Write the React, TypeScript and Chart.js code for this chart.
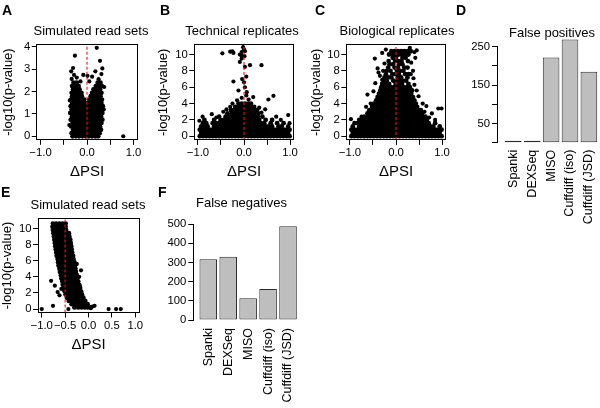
import { useEffect, useRef } from "react";
import { Chart, registerables } from "chart.js";

Chart.register(...registerables);

const FONT = "'Liberation Sans', Arial, Helvetica, sans-serif";
Chart.defaults.font.family = FONT;
Chart.defaults.color = "#000";

// ---------------- data ----------------
const volcanoTickValues = [-1, -0.5, 0, 0.5, 1];
const allTickLabels = ["\u22121.0", "\u22120.5", "0.0", "0.5", "1.0"];
const sparseTickLabels = ["\u22121.0", "", "0.0", "", "1.0"];
const pTicksSmall = [0, 1, 2, 3, 4];
const pTicks = [0, 2, 4, 6, 8, 10];

const methods = ["Spanki", "DEXSeq", "MISO", "Cuffdiff (iso)", "Cuffdiff (JSD)"];
const falsePositives = [0, 0, 222, 269, 185];
const falseNegatives = [316, 330, 113, 161, 488];
const fpTicks = [0, 50, 100, 150, 200, 250];
const fpTickLabels = ["", "50", "", "150", "", "250"];
const fnTicks = [0, 100, 200, 300, 400, 500];
const fnTickLabels = ["0", "100", "200", "300", "400", "500"];

// A: simulated read sets (null) -- rows of [-log10 p, dPSI values]
const simRowsA: [number, number[]][] = [
  [0.0, [-0.31, -0.24, -0.17, -0.1, -0.03, 0.04, 0.11, 0.18, 0.24]],
  [0.14, [-0.33, -0.27, -0.2, -0.13, -0.06, 0.01, 0.08, 0.15, 0.21, 0.27]],
  [0.29, [-0.3, -0.23, -0.16, -0.09, -0.02, 0.05, 0.12, 0.19, 0.25, 0.3]],
  [0.44, [-0.34, -0.27, -0.2, -0.13, -0.06, 0.01, 0.08, 0.15, 0.22, 0.28]],
  [0.59, [-0.31, -0.24, -0.17, -0.1, -0.03, 0.04, 0.11, 0.18, 0.25, 0.31]],
  [0.74, [-0.35, -0.28, -0.21, -0.14, -0.07, 0.0, 0.07, 0.14, 0.21, 0.28, 0.33]],
  [0.89, [-0.32, -0.25, -0.18, -0.11, -0.04, 0.03, 0.1, 0.17, 0.24, 0.3]],
  [1.04, [-0.36, -0.29, -0.22, -0.15, -0.08, -0.01, 0.06, 0.13, 0.2, 0.27, 0.33]],
  [1.19, [-0.33, -0.26, -0.19, -0.12, -0.05, 0.02, 0.09, 0.16, 0.23, 0.3]],
  [1.34, [-0.35, -0.28, -0.21, -0.14, -0.07, 0.0, 0.07, 0.14, 0.21, 0.28, 0.34]],
  [1.49, [-0.32, -0.25, -0.18, -0.11, -0.04, 0.03, 0.1, 0.17, 0.24, 0.31]],
  [1.64, [-0.34, -0.27, -0.2, -0.13, -0.06, 0.05, 0.12, 0.19, 0.26, 0.32]],
  [1.79, [-0.32, -0.25, -0.18, -0.11, 0.08, 0.15, 0.22, 0.29]],
  [1.94, [-0.33, -0.26, -0.19, -0.12, 0.11, 0.18, 0.25, 0.31]],
  [2.09, [-0.3, -0.23, -0.16, 0.14, 0.21, 0.28]],
  [2.24, [-0.32, -0.25, -0.18, 0.19, 0.26, 0.32]],
  [2.39, [-0.29, -0.22, 0.23, 0.29]],
];
const simExtraA: [number, number][] = [
  [-0.33, 2.56], [-0.28, 2.74], [-0.34, 2.9], [-0.3, 3.05], [-0.22, 2.62], [-0.08, 2.74],
  [0.01, 2.7], [0.11, 2.66], [0.25, 2.55], [0.31, 2.78], [0.33, 3.03], [0.28, 3.37],
  [0.21, 3.95], [-0.26, 3.6], [0.78, 0.0], [-0.37, 1.6], [-0.38, 0.5], [0.37, 2.2],
  [0.36, 1.2], [-0.14, 2.45], [0.05, 2.45], [0.18, 2.9],
];

// B: technical replicates
const techRows: [number, number[]][] = [
  [0.02, [-0.96, -0.89, -0.82, -0.75, -0.68, -0.61, -0.54, -0.47, -0.4, -0.33, -0.26, -0.19, -0.12, -0.05, 0.02, 0.09, 0.16, 0.23, 0.3, 0.37, 0.44, 0.51, 0.58, 0.65, 0.72, 0.79, 0.86, 0.93, 0.99]],
  [0.4, [-0.93, -0.86, -0.79, -0.72, -0.65, -0.58, -0.51, -0.44, -0.37, -0.3, -0.23, -0.16, -0.09, -0.02, 0.05, 0.12, 0.19, 0.26, 0.33, 0.4, 0.47, 0.54, 0.61, 0.68, 0.75, 0.82, 0.89, 0.96]],
  [0.8, [-0.96, -0.89, -0.82, -0.75, -0.68, -0.61, -0.54, -0.47, -0.4, -0.33, -0.26, -0.19, -0.12, -0.05, 0.02, 0.09, 0.16, 0.23, 0.3, 0.37, 0.44, 0.51, 0.58, 0.65, 0.72, 0.79, 0.86, 0.93, 0.99]],
  [1.2, [-0.93, -0.86, -0.79, -0.65, -0.58, -0.51, -0.44, -0.37, -0.3, -0.23, -0.16, -0.09, -0.02, 0.05, 0.12, 0.19, 0.26, 0.33, 0.4, 0.47, 0.54, 0.61, 0.75, 0.82, 0.96]],
  [1.6, [-0.89, -0.82, -0.68, -0.61, -0.54, -0.47, -0.4, -0.33, -0.26, -0.19, -0.12, -0.05, 0.02, 0.09, 0.16, 0.23, 0.3, 0.37, 0.44, 0.58, 0.72, 0.86]],
  [2.0, [-0.86, -0.65, -0.51, -0.44, -0.37, -0.3, -0.23, -0.16, -0.09, -0.02, 0.05, 0.12, 0.19, 0.26, 0.33, 0.47, 0.61]],
  [2.4, [-0.54, -0.4, -0.33, -0.26, -0.19, -0.12, -0.05, 0.02, 0.09, 0.16, 0.23, 0.3, 0.4]],
  [2.8, [-0.36, -0.27, -0.2, -0.13, -0.06, 0.01, 0.08, 0.15, 0.22, 0.31]],
  [3.2, [-0.28, -0.21, -0.14, -0.07, 0.0, 0.07, 0.14, 0.21, 0.28]],
  [3.6, [-0.19, -0.12, -0.05, 0.02, 0.09, 0.16, 0.22]],
  [4.0, [-0.12, -0.05, 0.02, 0.09, 0.15]],
];
const techExtra: [number, number][] = [
  [-0.97, 1.9], [-0.9, 2.4], [-0.7, 2.7], [-0.6, 2.3], [-0.45, 3.0], [-0.38, 3.3], [-0.3, 3.6],
  [-0.25, 4.0], [-0.15, 4.4], [-0.05, 4.7], [0.05, 5.0], [0.1, 4.5], [0.2, 4.8], [0.33, 3.5],
  [0.38, 2.9], [0.46, 3.3], [0.53, 4.5], [0.64, 4.95], [0.7, 2.4], [0.8, 2.0], [0.96, 2.6],
  [0.99, 1.6], [-0.12, 5.6], [0.06, 5.4], [0.02, 6.0], [0.0, 6.6], [-0.04, 7.0], [0.05, 7.3],
  [-0.23, 6.7], [0.02, 8.5], [0.13, 8.7], [0.38, 8.7], [-0.05, 9.5], [-0.09, 9.1],
  [-0.47, 10.15], [-0.3, 10.35], [-0.23, 10.2], [-0.25, 10.4], [-0.09, 10.0], [-0.05, 10.3],
  [0.0, 10.6], [-0.02, 10.9], [0.02, 10.4], [-0.06, 9.9], [0.01, 9.8],
];

// C: biological replicates
const bioRows: [number, number[]][] = [
  [0.02, [-0.97, -0.9, -0.83, -0.76, -0.69, -0.62, -0.55, -0.48, -0.41, -0.34, -0.27, -0.2, -0.13, -0.06, 0.01, 0.08, 0.15, 0.22, 0.29, 0.36, 0.43, 0.5, 0.57, 0.64, 0.71, 0.78, 0.85, 0.92, 0.99]],
  [0.4, [-0.94, -0.87, -0.8, -0.73, -0.66, -0.59, -0.52, -0.45, -0.38, -0.31, -0.24, -0.17, -0.1, -0.03, 0.04, 0.11, 0.18, 0.25, 0.32, 0.39, 0.46, 0.53, 0.6, 0.67, 0.74, 0.81, 0.88, 0.95]],
  [0.8, [-0.97, -0.9, -0.83, -0.76, -0.69, -0.62, -0.55, -0.48, -0.41, -0.34, -0.27, -0.2, -0.13, -0.06, 0.01, 0.08, 0.15, 0.22, 0.29, 0.36, 0.43, 0.5, 0.57, 0.64, 0.71, 0.78, 0.85, 0.92, 0.99]],
  [1.2, [-0.94, -0.8, -0.73, -0.66, -0.59, -0.52, -0.45, -0.38, -0.31, -0.24, -0.17, -0.1, -0.03, 0.04, 0.11, 0.18, 0.25, 0.32, 0.39, 0.46, 0.53, 0.6, 0.67, 0.74, 0.81, 0.95]],
  [1.6, [-0.9, -0.83, -0.76, -0.69, -0.62, -0.55, -0.48, -0.41, -0.34, -0.27, -0.2, -0.13, -0.06, 0.01, 0.08, 0.15, 0.22, 0.29, 0.36, 0.43, 0.5, 0.57, 0.64, 0.71, 0.85]],
  [2.0, [-0.8, -0.73, -0.66, -0.59, -0.52, -0.45, -0.38, -0.31, -0.24, -0.17, -0.1, -0.03, 0.04, 0.11, 0.18, 0.25, 0.32, 0.39, 0.46, 0.53, 0.6, 0.67]],
  [2.4, [-0.69, -0.62, -0.55, -0.48, -0.41, -0.34, -0.27, -0.2, -0.13, -0.06, 0.01, 0.08, 0.15, 0.22, 0.29, 0.36, 0.43, 0.5, 0.57, 0.64]],
  [2.8, [-0.62, -0.55, -0.48, -0.41, -0.34, -0.27, -0.2, -0.13, -0.06, 0.01, 0.08, 0.15, 0.22, 0.29, 0.36, 0.43, 0.5, 0.57]],
  [3.2, [-0.58, -0.51, -0.44, -0.37, -0.3, -0.23, -0.16, -0.09, -0.02, 0.05, 0.12, 0.19, 0.26, 0.33, 0.4, 0.47, 0.54]],
  [3.6, [-0.52, -0.45, -0.38, -0.31, -0.24, -0.17, -0.1, -0.03, 0.04, 0.11, 0.18, 0.25, 0.32, 0.39, 0.46]],
  [4.0, [-0.48, -0.41, -0.34, -0.27, -0.2, -0.13, -0.06, 0.01, 0.08, 0.15, 0.22, 0.29, 0.36, 0.43]],
  [4.4, [-0.43, -0.36, -0.29, -0.22, -0.15, -0.08, -0.01, 0.06, 0.13, 0.2, 0.27, 0.34, 0.4]],
  [4.8, [-0.4, -0.33, -0.26, -0.19, -0.12, -0.05, 0.02, 0.09, 0.16, 0.23, 0.3, 0.37]],
  [5.2, [-0.37, -0.3, -0.23, -0.16, -0.09, -0.02, 0.05, 0.12, 0.19, 0.26, 0.33]],
  [5.6, [-0.34, -0.27, -0.2, -0.13, -0.06, 0.01, 0.08, 0.15, 0.22, 0.29, 0.35]],
  [6.0, [-0.32, -0.25, -0.18, -0.11, -0.04, 0.03, 0.1, 0.17, 0.24, 0.3]],
  [6.4, [-0.3, -0.22, -0.15, -0.01, 0.06, 0.13, 0.27]],
  [6.8, [-0.27, -0.2, -0.06, 0.01, 0.08, 0.15, 0.22]],
  [7.2, [-0.25, -0.17, -0.1, 0.04, 0.11, 0.25]],
  [7.6, [-0.22, -0.08, -0.01, 0.06, 0.2, 0.27]],
  [8.0, [-0.2, -0.12, 0.02, 0.09, 0.16]],
  [8.4, [-0.17, -0.03, 0.04, 0.18, 0.25]],
  [8.8, [-0.14, -0.07, 0.07, 0.14]],
  [9.2, [-0.16, -0.02, 0.05, 0.12, 0.26]],
  [9.6, [-0.07, 0.0, 0.14, 0.21]],
  [10.0, [-0.15, -0.08, -0.01, 0.06, 0.13, 0.2, 0.27]],
  [10.4, [-0.1, -0.03, 0.04, 0.11, 0.18, 0.25, 0.32]],
];
const bioExtra: [number, number][] = [
  [-0.98, 2.1], [-0.75, 2.4], [0.62, 3.0], [0.78, 2.8], [0.92, 3.4], [0.99, 3.4], [0.72, 2.3],
  [0.85, 2.0], [-0.62, 5.1], [-0.49, 5.5], [0.49, 4.9], [0.45, 5.6], [-0.46, 9.5], [-0.4, 8.3],
  [-0.35, 7.4], [0.37, 8.0], [0.38, 7.1], [0.42, 9.6], [0.4, 10.3], [0.45, 10.5], [-0.3, 10.2],
  [-0.22, 10.6], [0.3, 10.8], [-0.55, 4.0], [-0.45, 6.5], [0.4, 6.3], [-0.38, 7.8], [0.33, 9.0],
  [-0.25, 8.9], [-0.65, 3.6], [0.58, 4.0], [0.66, 3.7], [-0.3, 6.9], [0.32, 7.6], [-0.28, 8.0],
];

// E: simulated read sets (true dPSI = -0.5)
const simRowsE: [number, number[]][] = [
  [10.6, [-0.76, -0.69, -0.62, -0.55, -0.49]],
  [10.2, [-0.77, -0.7, -0.63, -0.56, -0.49]],
  [9.8, [-0.76, -0.69, -0.62, -0.55, -0.48]],
  [9.4, [-0.75, -0.68, -0.61, -0.54, -0.47, -0.42]],
  [9.0, [-0.74, -0.67, -0.6, -0.53, -0.46, -0.41]],
  [8.6, [-0.73, -0.66, -0.59, -0.52, -0.45, -0.39]],
  [8.2, [-0.72, -0.65, -0.58, -0.51, -0.44, -0.38]],
  [7.8, [-0.71, -0.64, -0.57, -0.5, -0.43, -0.37]],
  [7.4, [-0.7, -0.63, -0.56, -0.49, -0.42, -0.36]],
  [7.0, [-0.69, -0.62, -0.55, -0.48, -0.41, -0.35]],
  [6.6, [-0.68, -0.61, -0.54, -0.47, -0.4, -0.33]],
  [6.2, [-0.66, -0.59, -0.52, -0.45, -0.38, -0.32]],
  [5.8, [-0.65, -0.58, -0.51, -0.44, -0.37, -0.3]],
  [5.4, [-0.64, -0.57, -0.5, -0.43, -0.36, -0.29]],
  [5.0, [-0.62, -0.55, -0.48, -0.41, -0.34, -0.28]],
  [4.6, [-0.61, -0.54, -0.47, -0.4, -0.33, -0.27]],
  [4.2, [-0.59, -0.52, -0.45, -0.38, -0.31, -0.25]],
  [3.8, [-0.58, -0.51, -0.44, -0.37, -0.3, -0.24]],
  [3.4, [-0.56, -0.49, -0.42, -0.35, -0.28, -0.22]],
  [3.0, [-0.55, -0.48, -0.41, -0.34, -0.27, -0.2]],
  [2.6, [-0.53, -0.46, -0.39, -0.32, -0.25, -0.18]],
  [2.2, [-0.51, -0.44, -0.37, -0.3, -0.23, -0.16]],
  [1.8, [-0.49, -0.42, -0.35, -0.28, -0.21, -0.14]],
  [1.4, [-0.46, -0.39, -0.32, -0.25, -0.18, -0.11]],
  [1.0, [-0.42, -0.35, -0.28, -0.21, -0.14, -0.07]],
  [0.6, [-0.36, -0.29, -0.22, -0.15, -0.08, -0.02]],
  [0.2, [-0.3, -0.22, -0.15, -0.08, -0.02, 0.04]],
];
const simExtraE: [number, number][] = [
  [-1.0, 0.0], [-0.76, 0.4], [-0.8, 3.5], [-0.72, 2.9], [-0.66, 2.1], [-0.62, 1.7], [-0.43, 0.0],
  [0.43, 0.0], [0.59, 0.0], [0.69, 0.0], [0.13, 0.4], [-0.16, 4.8], [-0.2, 4.0], [-0.25, 5.6],
  [-0.18, 2.8], [0.05, 0.1], [0.08, 0.3], [-0.05, 0.5], [-0.58, 2.5],
];

// ---------------- helpers ----------------
const rowPoints = (rows: [number, number[]][]) => rows.flatMap(([y, xs]) => xs.map((x) => ({ x, y })));
const pairPoints = (pairs: [number, number][]) => pairs.map(([x, y]) => ({ x, y }));

const decor = {
  id: "decor",
  afterDraw(chart: any, _args: any, o: any) {
    const { ctx, chartArea: a } = chart;
    ctx.save();
    if (o.box) {
      const al = (v: number) => Math.round(v - 0.5) + 0.5;
      ctx.strokeStyle = "#000";
      ctx.lineWidth = 1;
      ctx.strokeRect(al(a.left), al(a.top), al(a.right) - al(a.left), al(a.bottom) - al(a.top));
    }
    ctx.fillStyle = "#000";
    ctx.textBaseline = "alphabetic";
    ctx.textAlign = "center";
    ctx.font = `13px ${FONT}`;
    ctx.fillText(o.title, o.titleX, o.titleY);
    ctx.textAlign = "left";
    ctx.font = `bold 14px ${FONT}`;
    ctx.fillText(o.letter, o.letterX, o.letterY);
    ctx.restore();
  },
};

function volcano(o: any) {
  const { L, R, T, B, yw, xh } = o;
  return {
    type: "scatter",
    data: {
      datasets: [
        {
          type: "line",
          data: [
            { x: o.redX, y: o.ymin },
            { x: o.redX, y: o.ymax },
          ],
          borderColor: "#e8141a",
          borderWidth: 1.1,
          borderDash: [3, 2],
          pointRadius: 0,
          fill: false,
        },
        {
          data: o.extra,
          pointRadius: 2.1,
          pointHoverRadius: 2.1,
          backgroundColor: "#000",
          borderWidth: 0,
        },
        {
          data: o.dense,
          pointRadius: 2.4,
          pointHoverRadius: 2.4,
          backgroundColor: "#000",
          borderWidth: 0,
        },
      ],
    },
    options: {
      responsive: false,
      animation: false,
      events: [],
      devicePixelRatio: 1,
      layout: { padding: { left: L - yw, top: T, right: 600 - R, bottom: 408 - B - xh } },
      scales: {
        x: {
          type: "linear",
          min: o.xmin,
          max: o.xmax,
          afterBuildTicks: (s: any) => {
            s.ticks = volcanoTickValues.map((v) => ({ value: v }));
          },
          afterFit: (s: any) => {
            s.height = xh;
            s.paddingLeft = 0;
            s.paddingRight = 0;
          },
          ticks: {
            autoSkip: false,
            maxRotation: 0,
            minRotation: 0,
            padding: 1.5,
            color: "#000",
            font: { size: 11.3 },
            callback: (v: number) => o.xLabels[volcanoTickValues.indexOf(v)] ?? "",
          },
          grid: { display: true, drawOnChartArea: false, drawTicks: true, tickLength: 5, color: "#000" },
          border: { display: true, color: "#000" },
          title: { display: true, text: "\u0394PSI", font: { size: 15 }, color: "#000", padding: 0 },
        },
        y: {
          type: "linear",
          min: o.ymin,
          max: o.ymax,
          afterBuildTicks: (s: any) => {
            s.ticks = o.yTicks.map((v: number) => ({ value: v }));
          },
          afterFit: (s: any) => {
            s.width = yw;
            s.paddingTop = 0;
            s.paddingBottom = 0;
          },
          ticks: { autoSkip: false, padding: 1.5, color: "#000", font: { size: 11.3 }, callback: (v: number) => String(v) },
          grid: { display: true, drawOnChartArea: false, drawTicks: true, tickLength: 5, color: "#000" },
          border: { display: true, color: "#000" },
          title: { display: true, text: "-log10(p-value)", font: { size: 13 }, color: "#000", padding: 0 },
        },
      },
      plugins: {
        legend: { display: false },
        tooltip: { enabled: false },
        decor: { box: true, ...o.decor },
      },
    },
    plugins: [decor],
  };
}

function bars(o: any) {
  const { L, R, T, B } = o;
  const yw = 40;
  const xh = 100;
  return {
    type: "bar",
    data: {
      datasets: [
        {
          data: o.values.map((v: number, i: number) => ({ x: i + 1, y: v })),
          backgroundColor: "#bebebe",
          borderColor: "#2a2a2a",
          borderWidth: 1,
          borderSkipped: false,
          barPercentage: 0.88,
          categoryPercentage: 1,
          minBarLength: 2,
          clip: false,
        },
      ],
    },
    options: {
      responsive: false,
      animation: false,
      events: [],
      devicePixelRatio: 1,
      layout: { padding: { left: L - yw, top: T, right: 600 - R, bottom: 408 - B - xh } },
      scales: {
        x: {
          type: "linear",
          offset: false,
          min: o.xmin,
          max: o.xmax,
          afterBuildTicks: (s: any) => {
            s.ticks = methods.map((_, i) => ({ value: i + 1 }));
          },
          afterFit: (s: any) => {
            s.height = xh;
            s.paddingLeft = 0;
            s.paddingRight = 0;
          },
          ticks: {
            autoSkip: false,
            minRotation: 90,
            maxRotation: 90,
            padding: o.labelPad,
            color: "#000",
            font: { size: 12.5 },
            callback: (v: number) => methods[v - 1] ?? "",
          },
          grid: { display: false, drawTicks: false, offset: false },
          border: { display: false },
        },
        y: {
          type: "linear",
          min: o.ymin,
          max: o.ymax,
          afterBuildTicks: (s: any) => {
            s.ticks = o.yTicks.map((v: number) => ({ value: v }));
          },
          afterFit: (s: any) => {
            s.width = yw;
            s.paddingTop = 0;
            s.paddingBottom = 0;
          },
          ticks: {
            autoSkip: false,
            padding: 2,
            color: "#000",
            font: { size: 11.3 },
            callback: (v: number) => o.yLabels[o.yTicks.indexOf(v)] ?? "",
          },
          grid: { display: true, drawOnChartArea: false, drawTicks: true, tickLength: 5, color: "#000" },
          border: { display: true, color: "#000" },
        },
      },
      plugins: {
        legend: { display: false },
        tooltip: { enabled: false },
        decor: { box: false, ...o.decor },
      },
    },
    plugins: [decor],
  };
}

const panelConfigs = [
  () =>
    volcano({
      L: 36.8, R: 137.2, T: 44.3, B: 139.8, yw: 36.1, xh: 40.7,
      xmin: -1.08, xmax: 1.08, ymin: -0.158, ymax: 4.108,
      yTicks: pTicksSmall, xLabels: sparseTickLabels, redX: 0,
      dense: rowPoints(simRowsA), extra: pairPoints(simExtraA),
      decor: { title: "Simulated read sets", titleX: 91, titleY: 35, letter: "A", letterX: 2, letterY: 15 },
    }),
  () =>
    volcano({
      L: 194.3, R: 293.7, T: 44.7, B: 139.9, yw: 39.1, xh: 40.6,
      xmin: -1.08, xmax: 1.08, ymin: -0.44, ymax: 11.2,
      yTicks: pTicks, xLabels: sparseTickLabels, redX: 0,
      dense: rowPoints(techRows), extra: pairPoints(techExtra),
      decor: { title: "Technical replicates", titleX: 242, titleY: 35, letter: "B", letterX: 160, letterY: 15 },
    }),
  () =>
    volcano({
      L: 346.3, R: 445.7, T: 44.7, B: 139.9, yw: 38.1, xh: 40.6,
      xmin: -1.08, xmax: 1.08, ymin: -0.44, ymax: 11.2,
      yTicks: pTicks, xLabels: sparseTickLabels, redX: 0,
      dense: rowPoints(bioRows), extra: pairPoints(bioExtra),
      decor: { title: "Biological replicates", titleX: 397, titleY: 35, letter: "C", letterX: 315, letterY: 15 },
    }),
  () =>
    bars({
      L: 497, R: 599, T: 46.7, B: 142.7, xmin: 0.138, xmax: 5.534, ymin: 0, ymax: 250,
      values: falsePositives, yTicks: fpTicks, yLabels: fpTickLabels, labelPad: 7,
      decor: { title: "False positives", titleX: 552, titleY: 37, letter: "D", letterX: 456, letterY: 15 },
    }),
  () =>
    volcano({
      L: 38, R: 139, T: 218.5, B: 312.5, yw: 38.8, xh: 41.5,
      xmin: -1.08, xmax: 1.08, ymin: -0.43, ymax: 11.23,
      yTicks: pTicks, xLabels: allTickLabels, redX: -0.5,
      dense: rowPoints(simRowsE), extra: pairPoints(simExtraE),
      decor: { title: "Simulated read sets", titleX: 88, titleY: 209, letter: "E", letterX: 1, letterY: 197 },
    }),
  () =>
    bars({
      L: 193.3, R: 300, T: 224, B: 320, xmin: 0.25, xmax: 5.6, ymin: 0, ymax: 500,
      values: falseNegatives, yTicks: fnTicks, yLabels: fnTickLabels, labelPad: 8,
      decor: { title: "False negatives", titleX: 241.5, titleY: 207, letter: "F", letterX: 158, letterY: 197 },
    }),
];

function ChartLayer({ make }: { make: () => any }) {
  const ref = useRef<HTMLCanvasElement | null>(null);
  useEffect(() => {
    const chart = new Chart(ref.current as HTMLCanvasElement, make());
    return () => chart.destroy();
  }, [make]);
  return (
    <canvas
      ref={ref}
      width={600}
      height={408}
      style={{ position: "absolute", left: 0, top: 0, width: 600, height: 408 }}
    />
  );
}

export default function App() {
  return (
    <div style={{ position: "absolute", left: 0, top: 0, width: 600, height: 408, background: "#fff", overflow: "hidden" }}>
      {panelConfigs.map((make, i) => (
        <ChartLayer key={i} make={make} />
      ))}
    </div>
  );
}
